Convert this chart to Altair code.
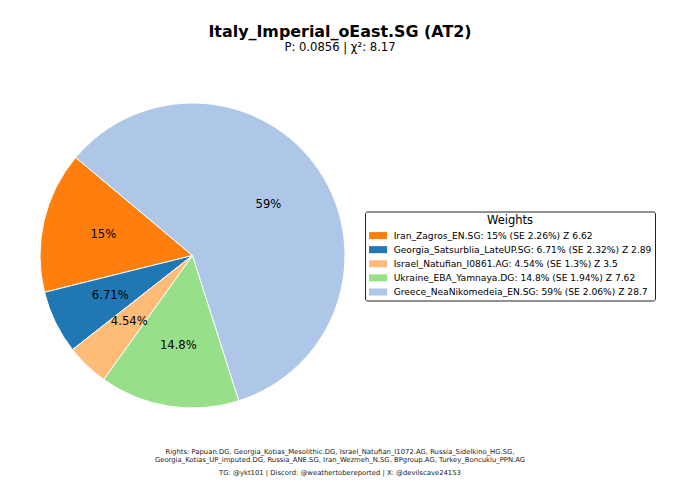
import math
import altair as alt
import pandas as pd

names = ["Iran_Zagros_EN.SG", "Georgia_Satsurblia_LateUP.SG", "Israel_Natufian_I0861.AG",
         "Ukraine_EBA_Yamnaya.DG", "Greece_NeaNikomedeia_EN.SG"]
weights = [15.0, 6.71, 4.54, 14.8, 59.0]
weight_text = ["15%", "6.71%", "4.54%", "14.8%", "59%"]
se_text = ["2.26%", "2.32%", "1.3%", "1.94%", "2.06%"]
z_text = ["6.62", "2.89", "3.5", "7.62", "28.7"]
colors = ["#ff7f0e", "#1f77b4", "#ffbb78", "#98df8a", "#aec7e8"]

title = "Italy_Imperial_oEast.SG (AT2)"
subtitle = "P: 0.0856 | χ²: 8.17"
rights1 = "Rights: Papuan.DG, Georgia_Kotias_Mesolithic.DG, Israel_Natufian_I1072.AG, Russia_Sidelkino_HG.SG,"
rights2 = "Georgia_Kotias_UP_imputed.DG, Russia_ANE.SG, Iran_Wezmeh_N.SG, BPgroup.AG, Turkey_Boncuklu_PPN.AG"
contact = "TG: @ykt101 | Discord: @weathertobereported | X: @devilscave24153"

labels = [f"{n}: {w} (SE {s}) Z {z}" for n, w, s, z in zip(names, weight_text, se_text, z_text)]
df = pd.DataFrame({"label": labels, "weight": weights, "pct": weight_text, "idx": range(5)})

FONT = "DejaVu Sans"
PAD_TOP = 46
CX, CY, R = 184.5, 247.5 - PAD_TOP, 152.5

theta_scale = alt.Scale(domain=[0, sum(weights)],
                        range=[math.radians(670), math.radians(310)])
theta = alt.Theta("weight:Q", stack=True, scale=theta_scale)
order = alt.Order("idx:Q")

pie = alt.Chart(df).mark_arc(outerRadius=R, stroke="white", strokeWidth=1).encode(
    theta=theta,
    order=order,
    x=alt.value(CX),
    y=alt.value(CY),
    color=alt.Color(
        "label:N",
        scale=alt.Scale(domain=labels, range=colors),
        legend=alt.Legend(
            title="Weights", orient="none", legendX=357, legendY=203.5 - PAD_TOP,
            titleFont=FONT, titleFontSize=11.5, titleFontWeight="normal", titleColor="black",
            titleAnchor="middle", titlePadding=5,
            labelFont=FONT, labelFontSize=9.13, labelColor="black", labelLimit=400,
            labelOffset=11,
            symbolType="M-2,-0.78H2V0.78H-2Z", symbolSize=81, symbolStrokeWidth=0,
            symbolOffset=5.5,
            rowPadding=4.1, padding=3, strokeColor="#222222", fillColor="white",
            cornerRadius=2,
        ),
    ),
)

pct = alt.Chart(df).mark_text(radius=R * 0.6, font=FONT, fontSize=11.6, color="black").encode(
    theta=theta,
    order=order,
    x=alt.value(CX),
    y=alt.value(CY),
    text="pct:N",
)


def foot_line(text, page_y):
    return alt.Chart(pd.DataFrame({"t": [text]})).mark_text(
        font=FONT, fontSize=6.85, color="#222222", baseline="middle"
    ).encode(x=alt.value(332), y=alt.value(page_y - 8 - PAD_TOP), text="t:N")


chart = alt.layer(
    pie, pct, foot_line(rights1, 452), foot_line(rights2, 460), foot_line(contact, 473)
).properties(
    width=664,
    height=486 - PAD_TOP,
    padding={"left": 0, "top": PAD_TOP, "right": 0, "bottom": 0},
    autosize=alt.AutoSizeParams(type="none"),
    title=alt.TitleParams(
        text=title, subtitle=subtitle, font=FONT, fontSize=15.9, fontWeight="bold", color="black",
        subtitleFont=FONT, subtitleFontSize=11.6, subtitleColor="black", subtitlePadding=2.5,
        anchor="middle", offset=0,
    ),
).configure_view(stroke=None)

chart.save("out.html", embed_options={"renderer": "svg", "actions": False})
